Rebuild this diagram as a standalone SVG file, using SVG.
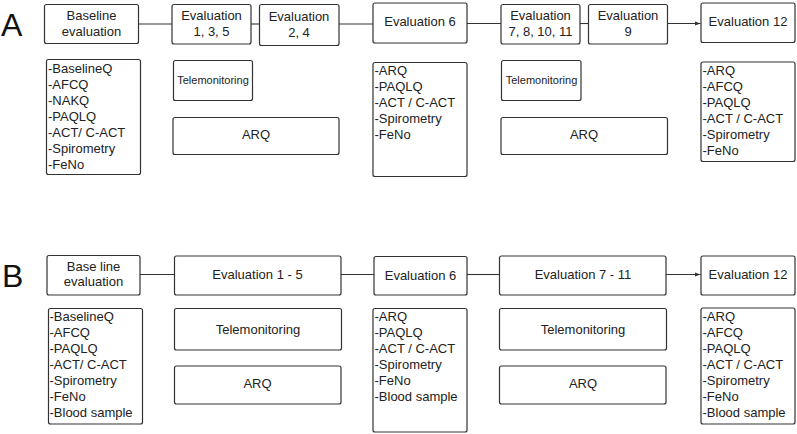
<svg xmlns="http://www.w3.org/2000/svg" width="797" height="434" viewBox="0 0 797 434">
<style>
rect{fill:#fff;stroke:#333;stroke-width:1.2}
text{font-family:"Liberation Sans",Arial,sans-serif;font-size:13px;fill:#222}
.c{text-anchor:middle}
.s{font-size:11px}
.big{font-size:32px;fill:#111}
.ln{stroke:#333;stroke-width:1.1;fill:none}
</style>
<defs>
<marker id="ah" markerWidth="6" markerHeight="6" refX="6" refY="3" orient="auto" markerUnits="userSpaceOnUse">
<path d="M0,0.8 L6,3 L0,5.2 Z" fill="#333"/>
</marker>
</defs>
<text class="big" x="1" y="35.5">A</text>
<text class="big" x="2" y="286.5">B</text>
<g id="connectors">
<path class="ln" d="M139,24 H172"/>
<path class="ln" d="M251,24 H259"/>
<path class="ln" d="M339,24 H373"/>
<path class="ln" d="M467,23.5 H501"/>
<path class="ln" d="M580,23.5 H588"/>
<path class="ln" d="M667,23.5 H700.5" marker-end="url(#ah)"/>
<path class="ln" d="M140,274.5 H174"/>
<path class="ln" d="M341,274.5 H374"/>
<path class="ln" d="M467,274.5 H499"/>
<path class="ln" d="M666,274.5 H700.5" marker-end="url(#ah)"/>
</g>
<g id="a-baseline"><rect x="44.5" y="4.5" width="94" height="39" rx="2"/><text class="c" x="91.5" y="20">Baseline</text><text class="c" x="91.5" y="36">evaluation</text></g>
<g id="a-eval135"><rect x="172" y="4.5" width="79" height="39.5" rx="2"/><text class="c" x="211.5" y="20">Evaluation</text><text class="c" x="211.5" y="36">1, 3, 5</text></g>
<g id="a-eval24"><rect x="259.5" y="4.5" width="79.5" height="41" rx="2"/><text class="c" x="299" y="20.5">Evaluation</text><text class="c" x="299" y="37">2, 4</text></g>
<g id="a-eval6"><rect x="373" y="3" width="94" height="40" rx="2"/><text class="c" x="420" y="26">Evaluation 6</text></g>
<g id="a-eval781011"><rect x="501" y="4.5" width="79" height="39.5" rx="2"/><text class="c" x="540.5" y="20">Evaluation</text><text class="c" x="540.5" y="36">7, 8, 10, 11</text></g>
<g id="a-eval9"><rect x="588.5" y="4.5" width="79" height="39.5" rx="2"/><text class="c" x="628" y="20">Evaluation</text><text class="c" x="628" y="36">9</text></g>
<g id="a-eval12"><rect x="701" y="3" width="94" height="39.5" rx="2"/><text class="c" x="748" y="25.5">Evaluation 12</text></g>
<g id="a-baseline-list"><rect x="46.5" y="59.5" width="94" height="115" rx="2"/>
<text x="48" y="73">-BaselineQ</text><text x="48" y="89">-AFCQ</text><text x="48" y="105">-NAKQ</text><text x="48" y="121">-PAQLQ</text><text x="48" y="137">-ACT/ C-ACT</text><text x="48" y="153">-Spirometry</text><text x="48" y="169">-FeNo</text></g>
<g id="a-tele1"><rect x="173.5" y="60.5" width="79" height="40" rx="2"/><text class="c s" x="213" y="83.5">Telemonitoring</text></g>
<g id="a-arq1"><rect x="173" y="117.5" width="166" height="37" rx="2"/><text class="c" x="256" y="139">ARQ</text></g>
<g id="a-eval6-list"><rect x="373" y="62.5" width="94" height="114" rx="2"/>
<text x="374.5" y="75">-ARQ</text><text x="374.5" y="91">-PAQLQ</text><text x="374.5" y="107">-ACT / C-ACT</text><text x="374.5" y="123">-Spirometry</text><text x="374.5" y="139">-FeNo</text></g>
<g id="a-tele2"><rect x="501.5" y="60.5" width="79.5" height="40" rx="2"/><text class="c s" x="541.5" y="83.5">Telemonitoring</text></g>
<g id="a-arq2"><rect x="501" y="117.5" width="166.5" height="37" rx="2"/><text class="c" x="584" y="139">ARQ</text></g>
<g id="a-eval12-list"><rect x="701" y="62" width="94" height="99.5" rx="2"/>
<text x="702.5" y="74.5">-ARQ</text><text x="702.5" y="90.5">-AFCQ</text><text x="702.5" y="106.5">-PAQLQ</text><text x="702.5" y="122.5">-ACT / C-ACT</text><text x="702.5" y="138.5">-Spirometry</text><text x="702.5" y="154.5">-FeNo</text></g>
<g id="b-baseline"><rect x="47" y="255.5" width="93" height="39.5" rx="2"/><text class="c" x="93.5" y="270.5">Base line</text><text class="c" x="93.5" y="286">evaluation</text></g>
<g id="b-eval15"><rect x="174.5" y="256" width="166.5" height="39" rx="2"/><text class="c" x="257.5" y="279">Evaluation 1 - 5</text></g>
<g id="b-eval6"><rect x="374" y="256.5" width="93" height="38.5" rx="2"/><text class="c" x="420.5" y="280">Evaluation 6</text></g>
<g id="b-eval711"><rect x="499.5" y="256" width="166.5" height="39" rx="2"/><text class="c" x="583" y="278.5">Evaluation 7 - 11</text></g>
<g id="b-eval12"><rect x="701" y="256" width="94" height="39" rx="2"/><text class="c" x="748" y="279">Evaluation 12</text></g>
<g id="b-baseline-list"><rect x="48.5" y="308.5" width="94" height="115.5" rx="2"/>
<text x="49.5" y="321">-BaselineQ</text><text x="49.5" y="337">-AFCQ</text><text x="49.5" y="353">-PAQLQ</text><text x="49.5" y="369">-ACT/ C-ACT</text><text x="49.5" y="385">-Spirometry</text><text x="49.5" y="401">-FeNo</text><text x="49.5" y="417">-Blood sample</text></g>
<g id="b-tele1"><rect x="174.5" y="308.5" width="167" height="41.5" rx="2"/><text class="c" x="258" y="334">Telemonitoring</text></g>
<g id="b-arq1"><rect x="174.5" y="366" width="166.5" height="38" rx="2"/><text class="c" x="257.5" y="388">ARQ</text></g>
<g id="b-eval6-list"><rect x="373" y="308.5" width="94" height="123.5" rx="2"/>
<text x="374.5" y="321">-ARQ</text><text x="374.5" y="337">-PAQLQ</text><text x="374.5" y="353">-ACT / C-ACT</text><text x="374.5" y="369">-Spirometry</text><text x="374.5" y="385">-FeNo</text><text x="374.5" y="401">-Blood sample</text></g>
<g id="b-tele2"><rect x="499.5" y="308.5" width="167" height="41.5" rx="2"/><text class="c" x="583" y="334">Telemonitoring</text></g>
<g id="b-arq2"><rect x="499.5" y="366" width="166.5" height="38" rx="2"/><text class="c" x="583" y="388">ARQ</text></g>
<g id="b-eval12-list"><rect x="701" y="308" width="94" height="116" rx="2"/>
<text x="702.5" y="321">-ARQ</text><text x="702.5" y="337">-AFCQ</text><text x="702.5" y="353">-PAQLQ</text><text x="702.5" y="369">-ACT / C-ACT</text><text x="702.5" y="385">-Spirometry</text><text x="702.5" y="401">-FeNo</text><text x="702.5" y="417">-Blood sample</text></g>
</svg>
